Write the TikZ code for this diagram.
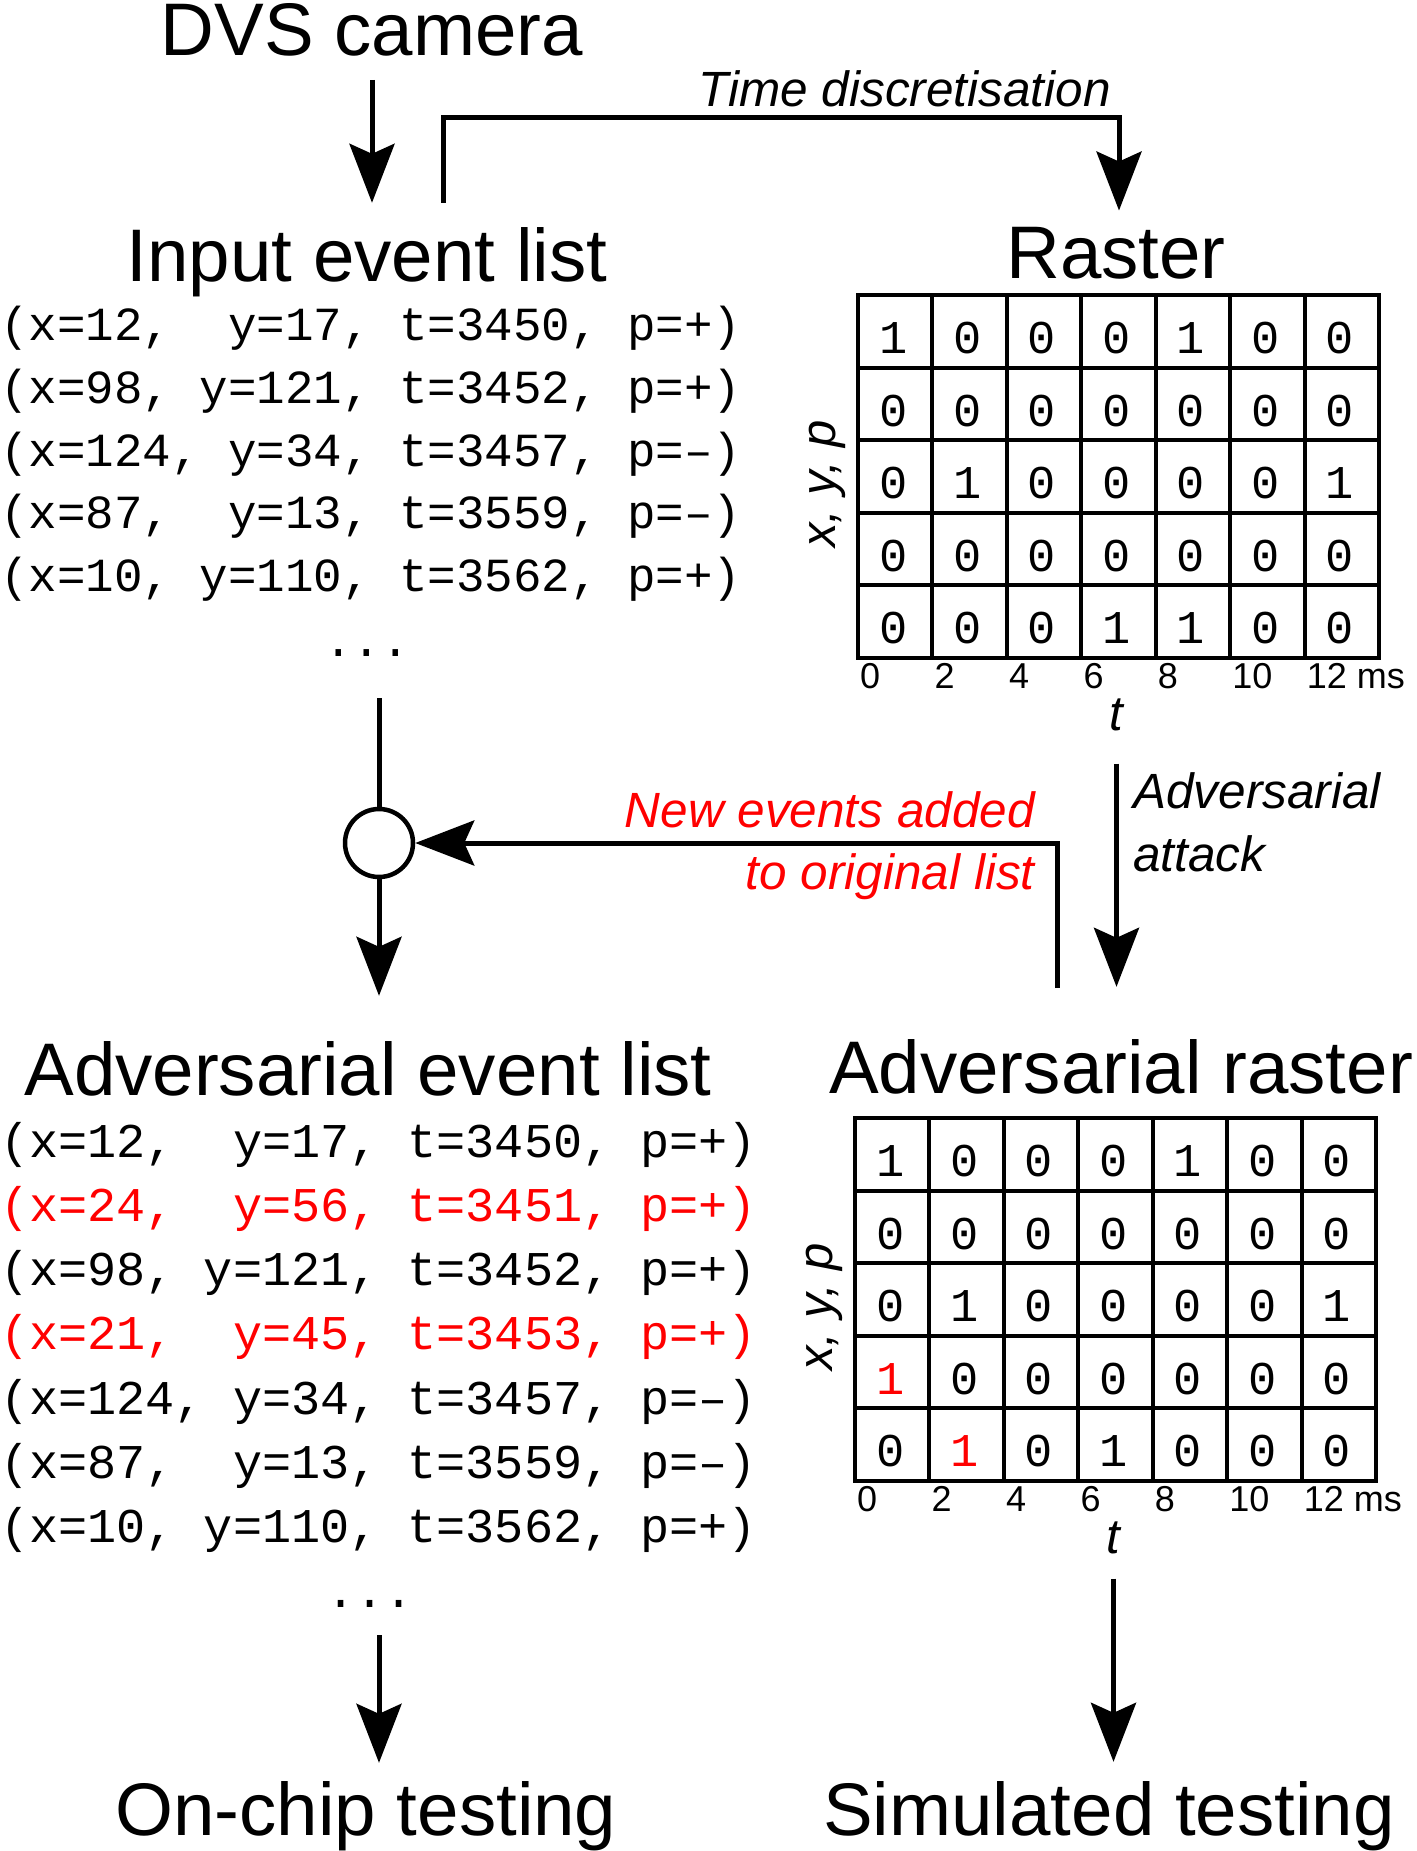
\documentclass[tikz,border=0pt]{standalone}
\usepackage{fontspec}
\setmainfont{Liberation Sans}
\setmonofont{Liberation Mono}
\usetikzlibrary{arrows.meta}

\begin{document}
\begin{tikzpicture}[x=1pt,y=-1pt,inner sep=0pt,
    heading/.style={font=\fontsize{74.5}{80}\selectfont,anchor=base},
    evt/.style={font=\ttfamily\fontsize{47.5}{50}\selectfont,anchor=base west},
    advevt/.style={font=\ttfamily\fontsize{48.5}{50}\selectfont,anchor=base west},
    cell/.style={font=\ttfamily\fontsize{47}{50}\selectfont,anchor=base},
    ticklabel/.style={font=\fontsize{36}{40}\selectfont,anchor=base west},
    axislabel/.style={font=\itshape\fontsize{49}{52}\selectfont},
    note/.style={font=\itshape\fontsize{49.5}{52}\selectfont},
    arr/.style={-{Stealth[length=59pt,width=45pt,inset=10pt]},line width=5pt},
    gridline/.style={line width=4pt,line cap=rect}]
\useasboundingbox (0,0) rectangle (1416,1851);

\node[heading] (dvs) at (372,56) {DVS camera};
\node[heading] (input) at (367,282) {Input event list};
\node[heading] (raster) at (1116,279) {Raster};
\node[heading] (advlist) at (368,1095) {Adversarial event list};
\node[heading,anchor=base west] (advraster) at (829,1093) {Adversarial raster};
\node[heading] (onchip) at (366,1835) {On-chip testing};
\node[heading] (simul) at (1109,1835) {Simulated testing};

\foreach \txt [count=\i] in {{(x=12,~ y=17, t=3450, p=+)},{(x=98, y=121, t=3452, p=+)},
    {(x=124, y=34, t=3457, p=–)},{(x=87,~ y=13, t=3559, p=–)},{(x=10, y=110, t=3562, p=+)}}
  \node[evt] (in\i) at (0,{341+62.5*(\i-1)}) {\txt};
\node[evt,anchor=base] (indots) at (367,656) {...};

\foreach \txt [count=\i] in {{(x=12,~ y=17, t=3450, p=+)},{\color{red}(x=24,~ y=56, t=3451, p=+)},
    {(x=98, y=121, t=3452, p=+)},{\color{red}(x=21,~ y=45, t=3453, p=+)},
    {(x=124, y=34, t=3457, p=–)},{(x=87,~ y=13, t=3559, p=–)},{(x=10, y=110, t=3562, p=+)}}
  \node[advevt] (adv\i) at (0,{1157+64.3*(\i-1)}) {\txt};
\node[advevt,anchor=base] (advdots) at (370,1607) {...};

\begin{scope}[shift={(858,295)}]
  \foreach \i in {0,...,7} \draw[gridline] ({74.43*\i},0) -- ({74.43*\i},362.5);
  \foreach \j in {0,...,5} \draw[gridline] (0,{72.5*\j}) -- (521,{72.5*\j});
  \foreach \row [count=\j] in {{1,0,0,0,1,0,0},{0,0,0,0,0,0,0},{0,1,0,0,0,0,1},
      {0,0,0,0,0,0,0},{0,0,0,1,1,0,0}}
    \foreach \v [count=\i] in \row
      \node[cell] (r-\j-\i) at ({74.43*(\i-0.5)-2},{72.5*\j-14}) {\v};
  \foreach \t [count=\i from 0] in {0,2,4,6,8,10,12 ms}
    \node[ticklabel] (rx\i) at ({74.43*\i+2},393) {\t};
  \node[axislabel,anchor=base] (rt) at (258.5,435) {t};
  \node[axislabel,rotate=90,anchor=south] (ry) at (-12,189) {x, y, p};
\end{scope}

\begin{scope}[shift={(855,1118)}]
  \foreach \i in {0,...,7} \draw[gridline] ({74.43*\i},0) -- ({74.43*\i},362.5);
  \foreach \j in {0,...,5} \draw[gridline] (0,{72.5*\j}) -- (521,{72.5*\j});
  \foreach \row [count=\j] in {{1,0,0,0,1,0,0},{0,0,0,0,0,0,0},{0,1,0,0,0,0,1},
      {{\color{red}1},0,0,0,0,0,0},{0,{\color{red}1},0,1,0,0,0}}
    \foreach \v [count=\i] in \row
      \node[cell] (a-\j-\i) at ({74.43*(\i-0.5)-2},{72.5*\j-14}) {\v};
  \foreach \t [count=\i from 0] in {0,2,4,6,8,10,12 ms}
    \node[ticklabel] (ax\i) at ({74.43*\i+2},393) {\t};
  \node[axislabel,anchor=base] (advt) at (258.5,435) {t};
  \node[axislabel,rotate=90,anchor=south] (ay) at (-12,189) {x, y, p};
\end{scope}

\node[draw,circle,minimum size=68pt,line width=4.5pt] (merge) at (379,843) {};
\coordinate (feed) at (1057,988);

\node[note,anchor=base east] (tdisc) at (1111,107) {Time discretisation};
\node[note,anchor=base east,text=red] (added1) at (1035,827) {New events added};
\node[note,anchor=base east,text=red] (added2) at (1035,889) {to original list};
\node[note,anchor=base west] (attack1) at (1133,808) {Adversarial};
\node[note,anchor=base west] (attack2) at (1133,871) {attack};

\draw[arr,shorten <=23pt,shorten >=25pt] (dvs.south) -- (dvs.south |- input.north);
\draw[arr] ([shift={(76pt,25pt)}]input.north) -- ++(0,-85) -| ([shift={(3pt,17pt)}]raster.north);
\draw[line width=5pt] (merge.north) -- ++(0,-109);
\draw[arr,shorten >=45pt] (merge.south) -- (merge.south |- advlist.north);
\draw[arr] (feed) |- (merge.east);
\draw[arr,shorten <=33pt,shorten >=52pt] (rt.south) -- (rt.south |- advraster.north);
\draw[arr,shorten <=28pt,shorten >=18pt] (merge |- advdots.south) -- (merge |- onchip.north);
\draw[arr,shorten <=25pt,shorten >=19pt] (advt.south) -- (advt.south |- simul.north);
\end{tikzpicture}
\end{document}
